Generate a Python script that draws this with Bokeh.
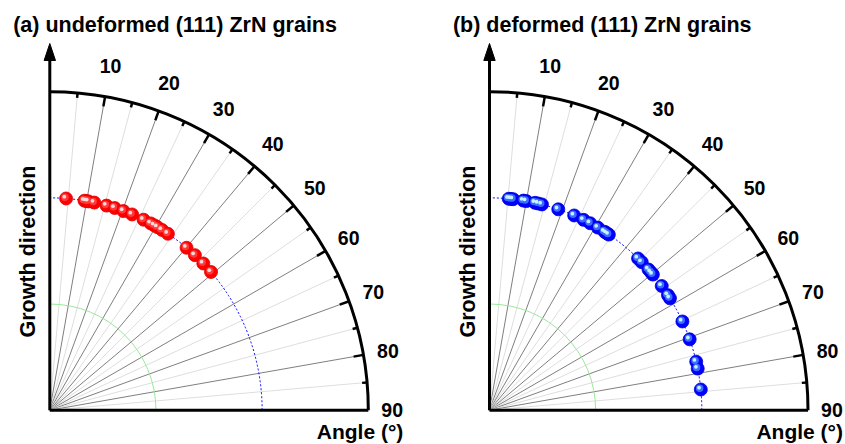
import numpy as np
from bokeh.plotting import figure
from bokeh.models import Range1d
from bokeh.core.properties import value
from bokeh.embed import file_html
from bokeh.resources import INLINE

# ---------------- data ----------------
angles_undeformed = [4.4, 9.4, 10.0, 10.5, 12.1, 15.5, 17.8, 20.3, 22.8, 26.2, 28.4,
                     29.5, 30.5, 31.9, 33.8, 40.1, 43.1, 46.3, 49.4]
angles_deformed = [5.2, 5.8, 6.4, 9.2, 10.0, 12.4, 13.3, 14.3, 18.9, 23.5, 26.3, 28.3,
                   30.7, 32.8, 33.5, 34.2, 44.4, 45.8, 48.5, 49.5, 50.3, 54.2, 57.2,
                   58.2, 65.3, 70.5, 76.8, 78.7, 84.4]
grain_radius = 2.0           # radial value of all grains
ring_values = [1.0, 2.0]     # reference rings
r_max = 3.0
tick_angles = [10, 20, 30, 40, 50, 60, 70, 80, 90]
tick_labels = ["10", "20", "30", "40", "50", "60", "70", "80", "90"]
titles = ["(a) undeformed (111) ZrN grains", "(b) deformed (111) ZrN grains"]
ylabel = "Growth direction"
xlabel = "Angle (°)"

# ---------------- layout ----------------
W, H = 845, 444
S = 106.17                 # px per radial unit
px = lambda v: v / S
OX0 = 49.3                 # origin of panel (a) in px from left
OY0 = 409.7                # origin in px from top
panel_dx = [0.0, px(439.7)]

p = figure(width=W, height=H, output_backend="svg", toolbar_location=None,
           x_range=Range1d(-px(OX0), px(W - OX0)), y_range=Range1d(-px(H - OY0), px(OY0)),
           min_border=0)
p.axis.visible = False
p.grid.visible = False
p.outline_line_color = None
p.background_fill_color = "white"

FONT = value("Liberation Sans")

def pol(r, deg, ox):
    t = np.radians(deg)
    return ox + r * np.sin(t), r * np.cos(t)

for k, ox in enumerate(panel_dx):
    # radial spokes
    for a in range(5, 90, 5):
        x1, y1 = pol(r_max, a, ox)
        col = "#7f7f7f" if a % 10 == 0 else "#dedede"
        p.line([ox, x1], [0, y1], line_color=col, line_width=1)
    # rings
    p.arc(x=[ox], y=[0], radius=ring_values[0], start_angle=0, end_angle=np.pi / 2,
          line_color="#9be89b", line_width=1)
    p.arc(x=[ox], y=[0], radius=ring_values[1], start_angle=0, end_angle=np.pi / 2,
          line_color="#0000ff", line_width=1, line_dash="2 2")
    # outer arc
    p.arc(x=[ox], y=[0], radius=r_max, start_angle=0, end_angle=np.pi / 2,
          line_color="black", line_width=3)
    # ticks on outer arc (inward)
    for a in range(5, 90, 5):
        ln = px(10) if a % 10 == 0 else px(5)
        xa, ya = pol(r_max, a, ox)
        xb, yb = pol(r_max - ln, a, ox)
        p.line([xa, xb], [ya, yb], line_color="black", line_width=2.5)
    # axes
    p.line([ox, ox + r_max], [0, 0], line_color="black", line_width=3)
    p.line([ox, ox], [0, px(OY0 - 58)], line_color="black", line_width=3)
    p.patch([ox - px(5.7), ox + px(5.7), ox], [px(OY0 - 60), px(OY0 - 60), px(OY0 - 43)],
            fill_color="black", line_color="black")
    # tick labels
    ta = np.array(tick_angles, dtype=float)
    lr = px(350.5 - 0.09 * ta)
    lx, ly = pol(lr, ta, ox)
    p.text(x=list(lx), y=list(ly), text=tick_labels, text_font=FONT,
           text_font_style="bold", text_font_size="19.5px", text_align="center",
           text_baseline="middle", text_color="black")
    # title and labels
    p.text(x=[ox + px(12.7 - OX0)], y=[px(OY0 - 24)], text=[titles[k]], text_font=FONT,
           text_font_style="bold", text_font_size="21.5px", text_align="left",
           text_baseline="middle")
    p.text(x=[ox + px(27.5 - OX0)], y=[px(OY0 - 251)], text=[ylabel], text_font=FONT,
           text_font_style="bold", text_font_size="21.5px", text_align="center",
           text_baseline="middle", angle=np.pi / 2)
    p.text(x=[ox + px(359.5 - OX0)], y=[px(OY0 - 431)], text=[xlabel], text_font=FONT,
           text_font_style="bold", text_font_size="21px", text_align="center",
           text_baseline="middle")

# grains as shaded spheres
def spheres(angles, ox, base, mid, hi, edge):
    x, y = pol(grain_radius, np.array(angles, dtype=float), ox)
    p.scatter(x, y, size=13, fill_color=base, line_color=edge, line_width=0.8)
    p.scatter(x - px(1.2), y + px(1.2), size=7.5, fill_color=mid, line_color=None)
    p.scatter(x - px(1.8), y + px(1.8), size=3.8, fill_color=hi, line_color=None)

spheres(angles_undeformed, panel_dx[0], "#ff0000", "#ff3a3a", "#ffd8d8", "#e00000")
spheres(angles_deformed, panel_dx[1], "#0000ff", "#3a6cff", "#c8f0ff", "#0000d8")

open("out.html", "w").write(file_html(p, INLINE))
